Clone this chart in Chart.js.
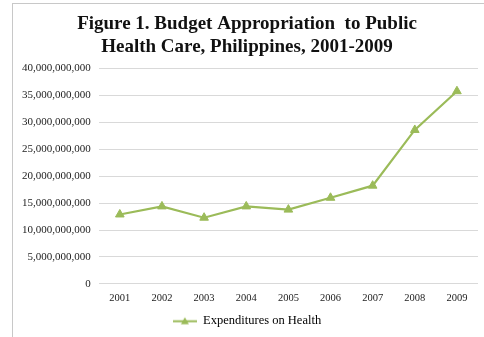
<!DOCTYPE html>
<html>
<head>
<meta charset="utf-8">
<script src="https://cdn.jsdelivr.net/npm/chart.js@4"></script>
<style>
  html, body { margin: 0; padding: 0; background: #fff; }
  .frame {
    position: absolute; left: 12px; top: 3px; width: 480px; height: 340px;
    border-left: 1.5px solid #c8c8c8; border-top: 1.5px solid #c8c8c8;
    box-sizing: border-box;
  }
  .wrap { position: absolute; left: 14px; top: 5px; width: 470px; height: 332px; }
</style>
</head>
<body>
<div class="frame"></div>
<div class="wrap"><canvas id="healthChart"></canvas></div>
<script>
// ----- data -----
const years = ['2001', '2002', '2003', '2004', '2005', '2006', '2007', '2008', '2009'];
const healthSpend = [12900000000, 14400000000, 12300000000, 14400000000, 13800000000,
                     16000000000, 18250000000, 28600000000, 35800000000];
const titleLines = ['Figure 1. Budget Appropriation  to Public', 'Health Care, Philippines, 2001-2009'];
const seriesName = 'Expenditures on Health';

const green = '#9bbb59';
const serif = "'Liberation Serif', 'Times New Roman', serif";

const fmt = (v) => Number(v).toLocaleString('en-US');

// legend swatch: short line with a small triangle marker in the middle
function legendSwatch() {
    const c = document.createElement('canvas');
    c.width = 24; c.height = 10;
    const g = c.getContext('2d');
    g.strokeStyle = green;
    g.lineWidth = 2;
    g.beginPath(); g.moveTo(0, 5.5); g.lineTo(24, 5.5); g.stroke();
    g.fillStyle = green;
    g.beginPath(); g.moveTo(12, 1.5); g.lineTo(16, 8.5); g.lineTo(8, 8.5); g.closePath(); g.fill();
    return c;
}
const swatch = legendSwatch();

new Chart(document.getElementById('healthChart'), {
    type: 'line',
    data: {
        labels: years,
        datasets: [{
            label: seriesName,
            data: healthSpend,
            borderColor: green,
            backgroundColor: green,
            borderWidth: 2.2,
            pointStyle: 'triangle',
            pointRadius: 5,
            pointBorderWidth: 1,
            tension: 0,
            fill: false
        }]
    },
    options: {
        responsive: true,
        maintainAspectRatio: false,
        animation: false,
        layout: { padding: { left: 0, right: 4, top: 0, bottom: 0 } },
        plugins: {
            title: {
                display: true,
                text: titleLines,
                color: '#111',
                font: { family: serif, size: 19, weight: 'bold', lineHeight: 1.2 },
                padding: { top: 8, bottom: 10 }
            },
            legend: {
                position: 'bottom',
                labels: {
                    usePointStyle: true,
                    pointStyleWidth: 24,
                    color: '#222',
                    padding: 2,
                    font: { family: serif, size: 12.5 },
                    generateLabels: () => [{
                        text: seriesName,
                        pointStyle: swatch,
                        datasetIndex: 0
                    }]
                }
            },
            tooltip: { enabled: false }
        },
        scales: {
            x: {
                offset: true,
                grid: { display: false, drawTicks: false },
                border: { display: false },
                ticks: { color: '#222', font: { family: serif, size: 10.5 }, padding: 8, maxRotation: 0 }
            },
            y: {
                min: 0,
                max: 40000000000,
                grid: { color: '#d9d9d9', drawTicks: false, lineWidth: 1 },
                border: { display: false },
                ticks: {
                    stepSize: 5000000000,
                    color: '#222',
                    font: { family: serif, size: 11 },
                    padding: 8,
                    callback: (v) => fmt(v)
                }
            }
        }
    }
});
</script>
</body>
</html>
